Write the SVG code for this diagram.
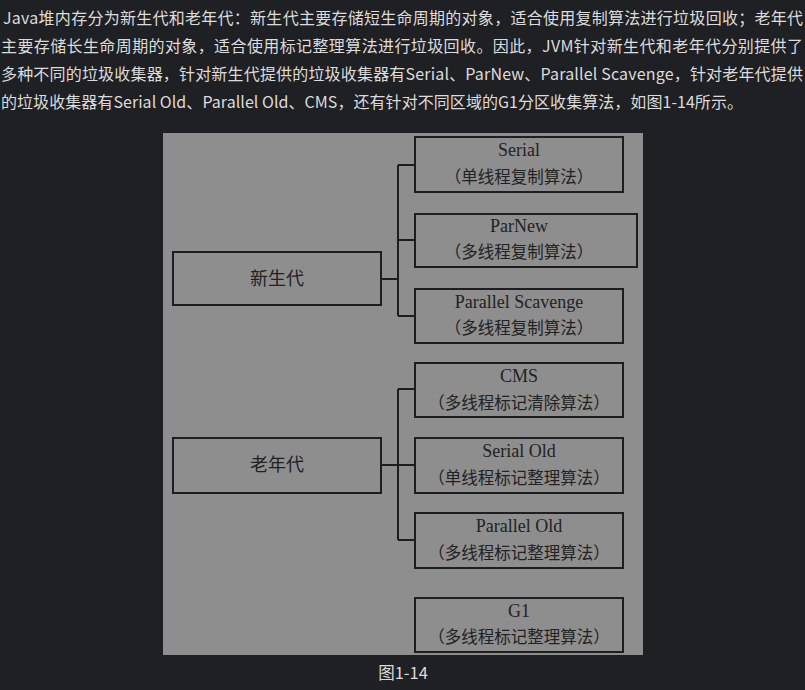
<svg xmlns="http://www.w3.org/2000/svg" width="805" height="690" viewBox="0 0 805 690">
<style>
.para{font-family:"Noto Sans CJK SC","Liberation Sans",sans-serif;font-size:16px;fill:#dcdcdc}
.cap{font-family:"Noto Sans CJK SC","Liberation Sans",sans-serif;font-size:16.5px;fill:#dcdcdc;text-anchor:middle}
.box{fill:none;stroke:#1e1e1e;stroke-width:2}
.lt{font-family:"Liberation Serif","Noto Sans CJK SC",serif;font-size:18px;fill:#222;text-anchor:middle}
.zh{font-family:"Liberation Serif","Noto Sans CJK SC",serif;font-size:16.5px;fill:#222;text-anchor:middle}
.big{font-family:"Noto Sans CJK SC",serif;font-size:18px;fill:#222;text-anchor:middle}
.conn{fill:none;stroke:#1e1e1e;stroke-width:2}
</style>
<rect x="0" y="0" width="805" height="690" fill="#1f2023"/>
<g id="paragraph">
<text class="para" x="3" y="24" textLength="800" lengthAdjust="spacing">Java堆内存分为新生代和老年代：新生代主要存储短生命周期的对象，适合使用复制算法进行垃圾回收；老年代</text>
<text class="para" x="1" y="52" textLength="802" lengthAdjust="spacing">主要存储长生命周期的对象，适合使用标记整理算法进行垃圾回收。因此，JVM针对新生代和老年代分别提供了</text>
<text class="para" x="1" y="80" textLength="802" lengthAdjust="spacing">多种不同的垃圾收集器，针对新生代提供的垃圾收集器有Serial、ParNew、Parallel Scavenge，针对老年代提供</text>
<text class="para" x="1" y="108" textLength="742" lengthAdjust="spacing">的垃圾收集器有Serial Old、Parallel Old、CMS，还有针对不同区域的G1分区收集算法，如图1-14所示。</text>
</g>
<rect x="163" y="133" width="480" height="522" fill="#8e8e8e"/>
<g id="connectors">
<path class="conn" d="M381 279H398M398 165V316M398 165H415M398 240H415M398 316H415"/>
<path class="conn" d="M381 465H398M398 389V540M398 389H415M398 465H415M398 540H415"/>
</g>
<g id="young">
<rect class="box" x="173" y="252" width="208" height="53"/>
<text class="big" x="277" y="285">新生代</text>
</g>
<g id="old">
<rect class="box" x="173" y="438" width="208" height="55"/>
<text class="big" x="277" y="471">老年代</text>
</g>
<g id="serial">
<rect class="box" x="415" y="137" width="208" height="55"/>
<text class="lt" x="519" y="156">Serial</text>
<text class="zh" x="519" y="183">（单线程复制算法）</text>
</g>
<g id="parnew">
<rect class="box" x="415" y="214" width="222" height="53"/>
<text class="lt" x="519" y="232">ParNew</text>
<text class="zh" x="519" y="258">（多线程复制算法）</text>
</g>
<g id="scavenge">
<rect class="box" x="415" y="289" width="208" height="54"/>
<text class="lt" x="519" y="308">Parallel Scavenge</text>
<text class="zh" x="519" y="334">（多线程复制算法）</text>
</g>
<g id="cms">
<rect class="box" x="415" y="363" width="208" height="54"/>
<text class="lt" x="519" y="382">CMS</text>
<text class="zh" x="519" y="409">（多线程标记清除算法）</text>
</g>
<g id="serialold">
<rect class="box" x="415" y="438" width="208" height="55"/>
<text class="lt" x="519" y="457">Serial Old</text>
<text class="zh" x="519" y="484">（单线程标记整理算法）</text>
</g>
<g id="parallelold">
<rect class="box" x="415" y="513" width="208" height="55"/>
<text class="lt" x="519" y="532">Parallel Old</text>
<text class="zh" x="519" y="559">（多线程标记整理算法）</text>
</g>
<g id="g1">
<rect class="box" x="415" y="598" width="208" height="54"/>
<text class="lt" x="519" y="617">G1</text>
<text class="zh" x="519" y="643">（多线程标记整理算法）</text>
</g>
<text class="cap" x="403" y="679">图1-14</text>
</svg>
